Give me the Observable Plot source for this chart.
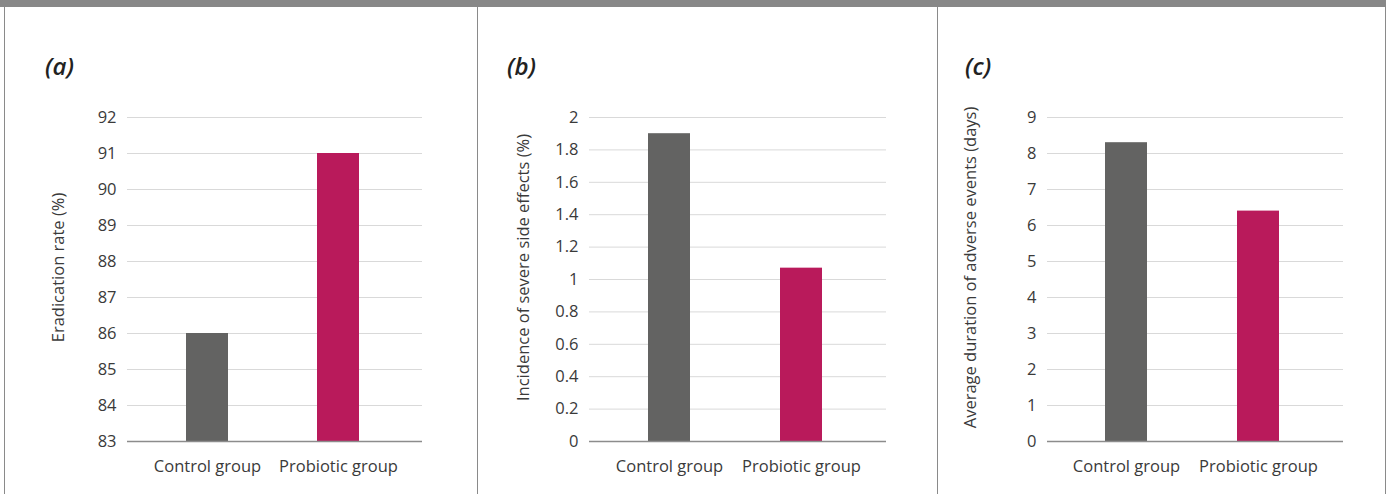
<!DOCTYPE html>
<html><head><meta charset="utf-8">
<script src="https://cdn.jsdelivr.net/npm/d3@7"></script>
<script src="https://cdn.jsdelivr.net/npm/@observablehq/plot@0.6"></script>
<style>
body{margin:0;background:#fff;font-family:"Open Sans",sans-serif;}
#wrap{position:relative;width:1392px;height:494px;overflow:hidden;background:#fff}
#band{position:absolute;left:0;top:0;width:1386px;height:7px;background:#888}
.panel{position:absolute;top:7px;height:487px;border-left:1px solid #8a8a8a;}
.panel svg{position:absolute;left:0;top:0}
.tag{position:absolute;top:47px;font-weight:600;font-style:italic;font-size:24px;line-height:1;color:#222;z-index:2}
</style></head>
<body><div id="wrap"><div id="band"></div></div>
<script>
const groups = ["Control group", "Probiotic group"];
const colors = ["#636362", "#B91A5B"];
const eradication = [86, 91];
const severe = [1.9, 1.07];
const duration = [8.3, 6.4];
const ticksA = [83, 84, 85, 86, 87, 88, 89, 90, 91, 92];
const ticksB = [0, 0.2, 0.4, 0.6, 0.8, 1, 1.2, 1.4, 1.6, 1.8, 2];
const ticksC = [0, 1, 2, 3, 4, 5, 6, 7, 8, 9];
const yLabels = ["Eradication rate (%)", "Incidence of severe side effects (%)", "Average duration of adverse events (days)"];
const tags = ["(a)", "(b)", "(c)"];

const panels = [
  {values: eradication, ticks: ticksA, left: 4, width: 471, ml: 122, mr: 54, labelDx: -69, tagLeft: 40},
  {values: severe, ticks: ticksB, left: 477, width: 459, ml: 111, mr: 51, labelDx: -66, tagLeft: 29},
  {values: duration, ticks: ticksC, left: 937, width: 447, ml: 109, mr: 42, labelDx: -77, tagLeft: 27, right: true}
];

const wrap = document.getElementById("wrap");
panels.forEach((p, i) => {
  const div = document.createElement("div");
  div.className = "panel";
  div.style.left = p.left + "px";
  div.style.width = p.width + "px";
  if (p.right) div.style.borderRight = "1px solid #8a8a8a";
  const tag = document.createElement("div");
  tag.className = "tag";
  tag.style.left = p.tagLeft + "px";
  tag.textContent = tags[i];
  div.appendChild(tag);
  const data = groups.map((g, j) => ({group: g, value: p.values[j]}));
  const domain = [p.ticks[0], p.ticks[p.ticks.length - 1]];
  const chart = Plot.plot({
    width: p.width, height: 487,
    marginTop: 110, marginBottom: 53, marginLeft: p.ml, marginRight: p.mr,
    style: {fontFamily: '"Open Sans", sans-serif', fontSize: "16.5px", color: "#3a3a3a", background: "transparent", overflow: "visible"},
    x: {domain: groups, paddingInner: 0.68, paddingOuter: 0.46, align: 0.48},
    y: {domain},
    color: {domain: groups, range: colors},
    marks: [
      Plot.gridY(p.ticks, {stroke: "#d9d9d9", strokeOpacity: 1, strokeWidth: 1}),
      Plot.barY(data, {x: "group", y1: domain[0], y2: "value", fill: "group"}),
      Plot.ruleY([domain[0]], {stroke: "#8c8c8c", strokeWidth: 1.3}),
      Plot.axisY(p.ticks, {tickSize: 0, tickPadding: 11, label: null, tickFormat: d => String(+d.toFixed(2)), fontSize: 16.5}),
      Plot.axisX({tickSize: 0, tickPadding: 19, label: null, fontSize: 16.5}),
      Plot.text([yLabels[i]], {text: d => d, frameAnchor: "left", textAnchor: "middle", rotate: -90, dx: p.labelDx, dy: -12, fontSize: 16.5, fill: "#3a3a3a"})
    ]
  });
  div.appendChild(chart);
  wrap.appendChild(div);
});
</script>
</body></html>
